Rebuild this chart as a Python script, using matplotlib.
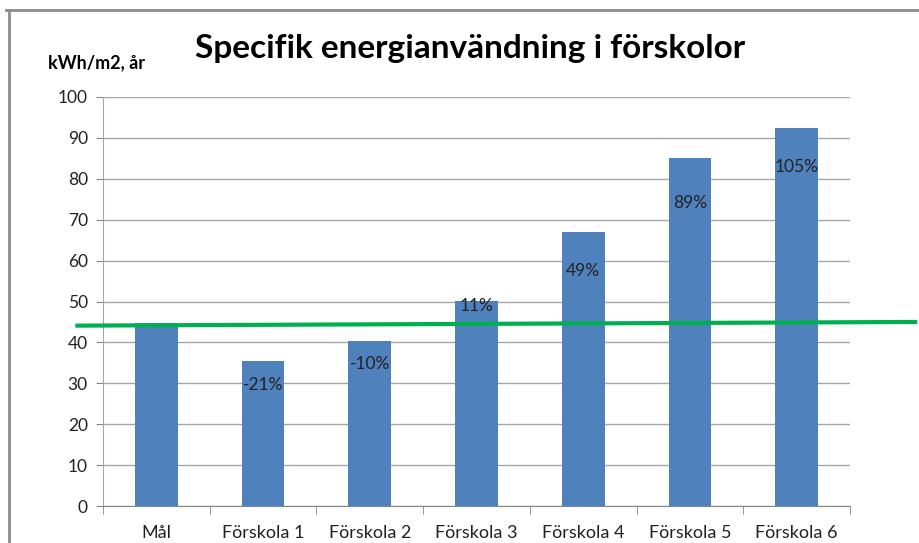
import matplotlib.pyplot as plt
from matplotlib.lines import Line2D

categories = ['Mål', 'Förskola 1', 'Förskola 2', 'Förskola 3', 'Förskola 4', 'Förskola 5', 'Förskola 6']
values = [44.8, 35.4, 40.3, 50.1, 67.0, 85.0, 92.4]
pct_labels = ['', '-21%', '-10%', '11%', '49%', '89%', '105%']
pct_label_y = [None, 29.5, 34.7, 48.9, 57.5, 74.2, 82.8]
target_x = [-0.74, 7.11]
target_y = [44.1, 45.0]

plt.rcParams['font.family'] = ['Lato', 'DejaVu Sans']

fig = plt.figure(figsize=(9.2, 5.43), dpi=100)
ax = fig.add_axes([0.112, 0.0681, 0.812, 0.7533])

x = range(len(categories))
ax.bar(x, values, width=0.4, color='#4F81BD', zorder=3)

for i, (lab, ly) in enumerate(zip(pct_labels, pct_label_y)):
    if lab:
        ax.text(i, ly, lab, ha='center', va='center', fontsize=12.5, color='#222222', zorder=5)

ax.plot(target_x, target_y, color='#00B050', lw=3, zorder=4, clip_on=False)

ax.set_xlim(-0.5, len(categories) - 0.5)
ax.set_ylim(0, 100)
ax.set_yticks(range(0, 101, 10))
ax.tick_params(axis='y', labelsize=12.5, length=5, color='#868686', labelcolor='#222222', pad=6)
ax.set_xticks(list(x))
ax.set_xticklabels(categories, fontsize=13, color='#222222')
ax.tick_params(axis='x', length=0, pad=14)
ax.set_xticks([i + 0.5 for i in range(-1, len(categories))], minor=True)
ax.tick_params(axis='x', which='minor', length=6, color='#868686')

ax.grid(axis='y', color='#A6A6A6', lw=1, zorder=0)
for s in ['top', 'right']:
    ax.spines[s].set_visible(False)
ax.spines['left'].set_color('#A6A6A6')
ax.spines['bottom'].set_color('#868686')

fig.text(0.511, 0.911, 'Specifik energianvändning i förskolor', ha='center', va='center',
         fontsize=24, fontweight='bold', color='black')
fig.text(0.052, 0.885, 'kWh/m2, år', ha='left', va='center', fontsize=13, fontweight='bold', color='black')

# frame around chart area
fig.add_artist(Line2D([0.006, 1.0], [0.982, 0.982], color='#8C8C8C', lw=2))
fig.add_artist(Line2D([0.010, 0.010], [0.0, 0.982], color='#8C8C8C', lw=2))

fig.savefig('out.png', dpi=100)
